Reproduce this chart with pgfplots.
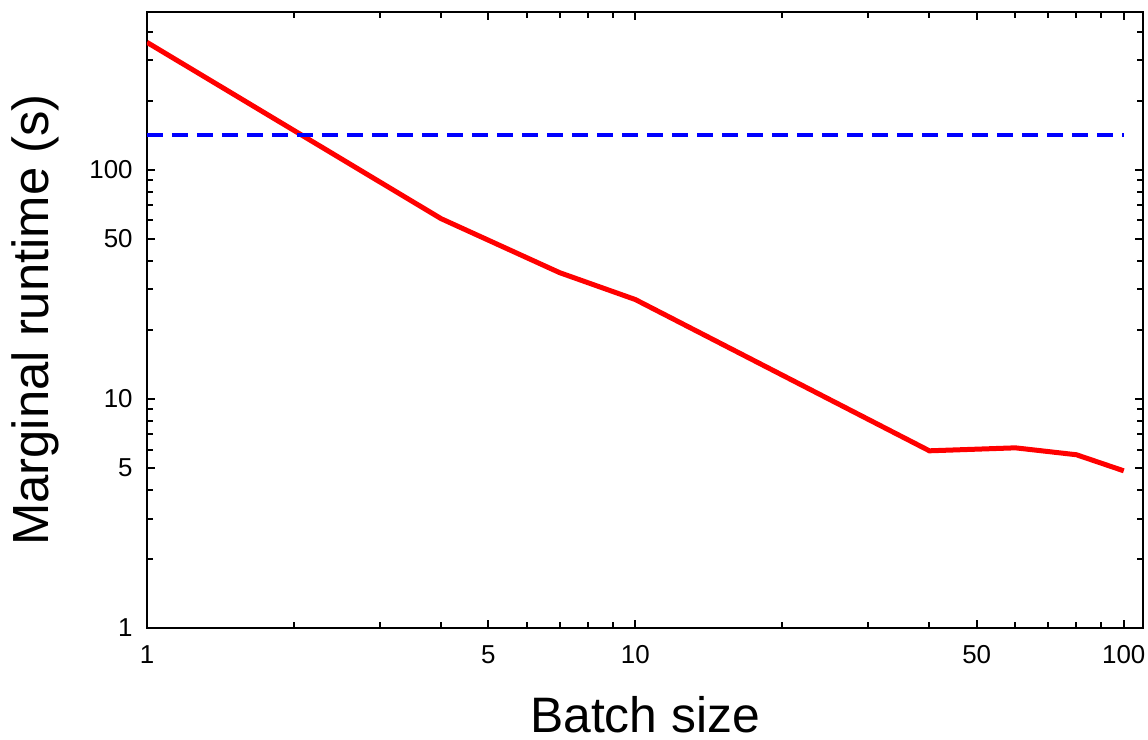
\documentclass[border=0pt]{standalone}
\usepackage{fontspec}
\setmainfont{Liberation Sans}
\usepackage{pgfplots}
\pgfplotsset{compat=1.18}
\begin{document}
\begin{tikzpicture}
\begin{loglogaxis}[
    scale only axis,
    width=498bp, height=308bp,
    xmin=1, xmax=109.5,
    ymin=1, ymax=487,
    xtick={1,5,10,50,100}, xticklabels={1,5,10,50,100},
    minor xtick={2,3,4,6,7,8,9,20,30,40,60,70,80,90},
    ytick={1,5,10,50,100}, yticklabels={1,5,10,50,100},
    minor ytick={2,3,4,6,7,8,9,20,30,40,60,70,80,90,200,300,400},
    tick align=inside,
    major tick length=4bp, minor tick length=3bp,
    every tick/.style={black, line width=1bp},
    axis line style={line width=1bp},
    tick label style={font=\fontsize{13}{13}\selectfont, inner sep=0pt},
    xticklabel style={yshift=-8.5bp},
    yticklabel style={xshift=-7bp},
    xlabel={Batch size},
    ylabel={Marginal runtime (s)},
    xlabel style={font=\fontsize{25}{25}\selectfont, at={(axis description cs:0.5,-0.170)}, anchor=base},
    ylabel style={font=\fontsize{25.5}{25.5}\selectfont, at={(axis description cs:-0.0984,0.5)}, anchor=base},
]
\addplot[color=red, line width=2.5bp] coordinates {
    (1,359) (4,61.1) (7,35.5) (10,27.1) (40,5.93) (60,6.11) (80,5.70) (100,4.85)
};
\addplot[color=blue, line width=2bp, dash pattern=on 8bp off 4.5bp] coordinates {
    (1,142) (100,142)
};
\end{loglogaxis}
\path (current axis.south west) ++(-73.5bp,-56bp);
\path (current axis.north east) ++(2.5bp,6bp);
\end{tikzpicture}
\end{document}
